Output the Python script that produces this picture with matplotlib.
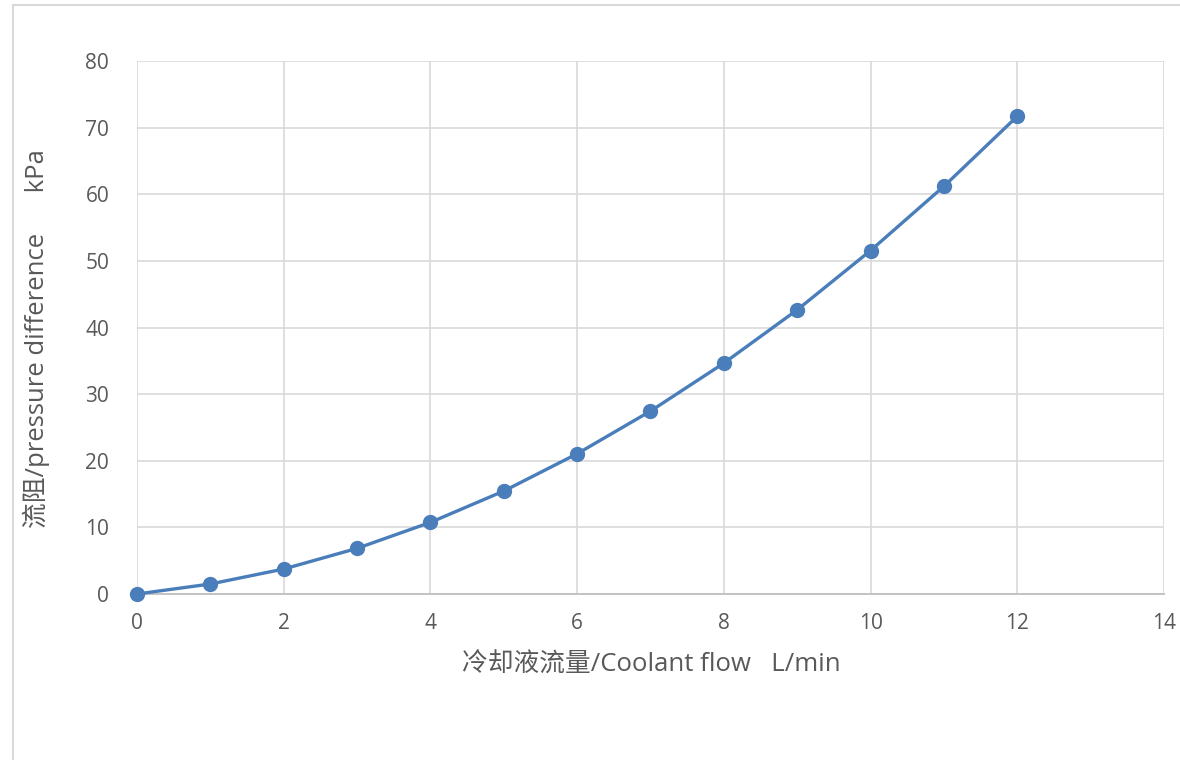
import matplotlib
matplotlib.use("Agg")
import matplotlib.pyplot as plt
from matplotlib.patches import Rectangle

plt.rcParams['font.family'] = ['Open Sans', 'Noto Sans CJK SC', 'DejaVu Sans']

# coolant flow (L/min) vs pressure difference (kPa)
flow = [0, 1, 2, 3, 4, 5, 6, 7, 8, 9, 10, 11, 12]
pressure = [0, 1.5, 3.75, 6.85, 10.75, 15.45, 21.05, 27.45, 34.65, 42.65, 51.55, 61.2, 71.7]

x_ticks = [0, 2, 4, 6, 8, 10, 12, 14]
y_ticks = [0, 10, 20, 30, 40, 50, 60, 70, 80]

text_color = "#595959"
grid_color = "#d9d9d9"
line_color = "#4a7ebb"

fig = plt.figure(figsize=(11.8, 7.6), dpi=100)
fig.patches.append(Rectangle((13 / 1180, -0.01), 1.0, 1 - 5 / 760 + 0.01,
                             transform=fig.transFigure, fill=False,
                             edgecolor=grid_color, linewidth=1.5))

ax = fig.add_axes([137 / 1180, 1 - 594 / 760, (1164 - 137) / 1180, (594 - 61) / 760])
ax.plot(flow, pressure, color=line_color, linewidth=2.4, marker="o",
        markersize=10, markerfacecolor=line_color, markeredgecolor=line_color,
        clip_on=False, zorder=3)

ax.set_xlim(0, 14)
ax.set_ylim(0, 80)
ax.set_xticks(x_ticks)
ax.set_yticks(y_ticks)
ax.grid(True, color=grid_color, linewidth=1.2)
ax.set_axisbelow(True)
for side in ["top", "right", "left"]:
    ax.spines[side].set_visible(False)
ax.spines["bottom"].set_color("#bfbfbf")
ax.spines["bottom"].set_linewidth(1.3)
ax.tick_params(length=0, labelsize=15, colors=text_color)
ax.tick_params(axis="x", pad=14)
ax.tick_params(axis="y", pad=20)

fig.text(651 / 1180, 1 - 665 / 760, "冷却液流量/Coolant flow   L/min",
         ha="center", va="center", fontsize=18.5, color=text_color)
fig.text(36 / 1180, 1 - 339 / 760, "流阻/pressure difference      kPa",
         ha="center", va="center", rotation=90, fontsize=18.5, color=text_color)

fig.savefig("out.png", dpi=100)
